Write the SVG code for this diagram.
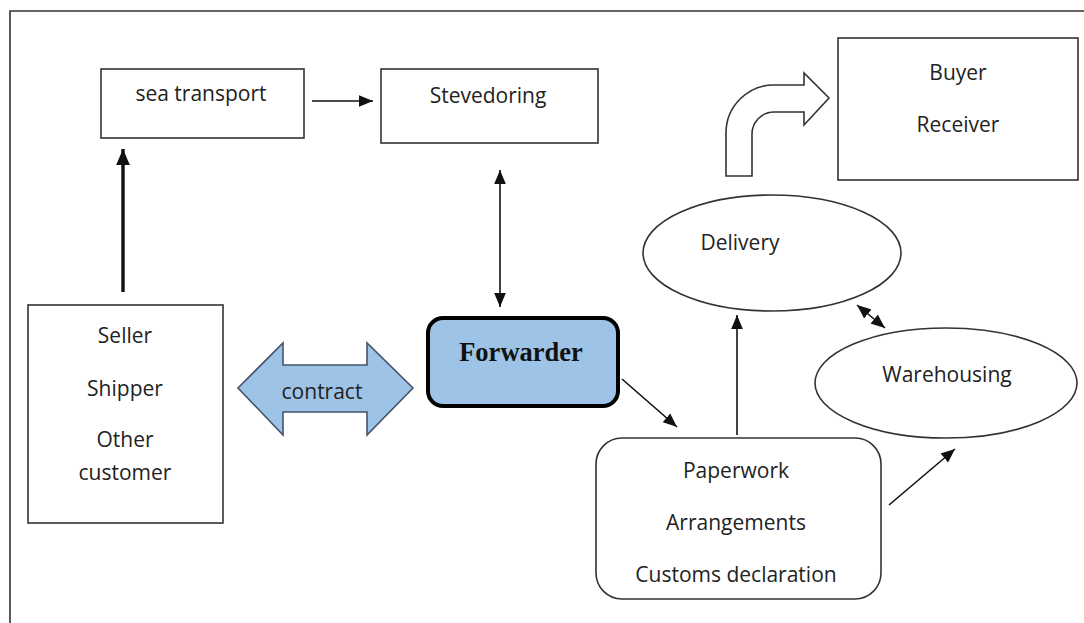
<svg xmlns="http://www.w3.org/2000/svg" width="1084" height="623" viewBox="0 0 1084 623">
<style>
.box{fill:#fff;stroke:#333;stroke-width:1.6}
.t{font-family:"Open Sans","Noto Sans",sans-serif;font-size:21px;fill:#222;text-anchor:middle}
.ln{stroke:#111;stroke-width:1.6;fill:none}
.thick{stroke:#111;stroke-width:3.4;fill:none}
</style>
<defs>
<marker id="ah" markerUnits="userSpaceOnUse" markerWidth="14" markerHeight="12" refX="12" refY="5" orient="auto-start-reverse" viewBox="0 0 12 10">
<path d="M0,0 L12,5 L0,10 Z" fill="#111"/>
</marker>
<marker id="ahb" markerUnits="userSpaceOnUse" markerWidth="16" markerHeight="14" refX="14" refY="6" orient="auto" viewBox="0 0 14 12">
<path d="M0,0 L14,6 L0,12 Z" fill="#111"/>
</marker>
</defs>
<rect width="1084" height="623" fill="#fff"/>
<path d="M10,640 L10,11 L1100,11" fill="none" stroke="#333" stroke-width="1.6"/>

<g id="sea-transport">
<rect class="box" x="101" y="69" width="203" height="69"/>
<text class="t" x="201" y="101">sea transport</text>
</g>
<g id="stevedoring">
<rect class="box" x="381" y="69" width="217" height="74"/>
<text class="t" x="488" y="103">Stevedoring</text>
</g>
<g id="buyer">
<rect class="box" x="838" y="38" width="240" height="142"/>
<text class="t" x="958" y="80">Buyer</text>
<text class="t" x="958" y="132">Receiver</text>
</g>
<g id="seller">
<rect class="box" x="28" y="305" width="195" height="218"/>
<text class="t" x="125" y="343">Seller</text>
<text class="t" x="125" y="396">Shipper</text>
<text class="t" x="125" y="447">Other</text>
<text class="t" x="125" y="480">customer</text>
</g>
<g id="forwarder">
<rect x="428" y="318" width="190" height="88" rx="15" fill="#9dc3e6" stroke="#000" stroke-width="4"/>
<text x="521" y="361" font-family="'Liberation Serif',serif" font-weight="bold" font-size="26.5" fill="#111" text-anchor="middle">Forwarder</text>
</g>
<g id="delivery">
<ellipse class="box" cx="772" cy="253" rx="129" ry="58"/>
<text class="t" x="740" y="250">Delivery</text>
</g>
<g id="warehousing">
<ellipse class="box" cx="946" cy="383" rx="131" ry="55"/>
<text class="t" x="947" y="382">Warehousing</text>
</g>
<g id="paperwork">
<rect class="box" x="596" y="438" width="285" height="161" rx="26"/>
<text class="t" x="736" y="478">Paperwork</text>
<text class="t" x="736" y="530">Arrangements</text>
<text class="t" x="736" y="582">Customs declaration</text>
</g>
<g id="contract">
<path d="M238,388 L283,343 L283,365 L367,365 L367,343 L413,388 L367,435 L367,412 L283,412 L283,435 Z" fill="#9dc3e6" stroke="#44546a" stroke-width="1.6"/>
<text class="t" x="322" y="399">contract</text>
</g>

<g id="connectors">
<line class="thick" x1="123" y1="292" x2="123" y2="149" marker-end="url(#ahb)"/>
<line class="ln" x1="312" y1="101" x2="373" y2="101" marker-end="url(#ah)"/>
<line class="ln" x1="500" y1="170" x2="500" y2="307" marker-start="url(#ah)" marker-end="url(#ah)"/>
<line class="ln" x1="622" y1="379" x2="677" y2="427" marker-end="url(#ah)"/>
<line class="ln" x1="737" y1="435" x2="737" y2="315" marker-end="url(#ah)"/>
<line class="ln" x1="857" y1="305" x2="885" y2="328" marker-start="url(#ah)" marker-end="url(#ah)"/>
<line class="ln" x1="889" y1="505" x2="955" y2="449" marker-end="url(#ah)"/>
<path d="M726,176 L726,133 A48,48 0 0 1 774,85 L804,85 L804,73 L829,98 L804,125 L804,112 L774,112 A22,22 0 0 0 752,134 L752,176 Z" fill="#fff" stroke="#333" stroke-width="1.6"/>
</g>
</svg>
